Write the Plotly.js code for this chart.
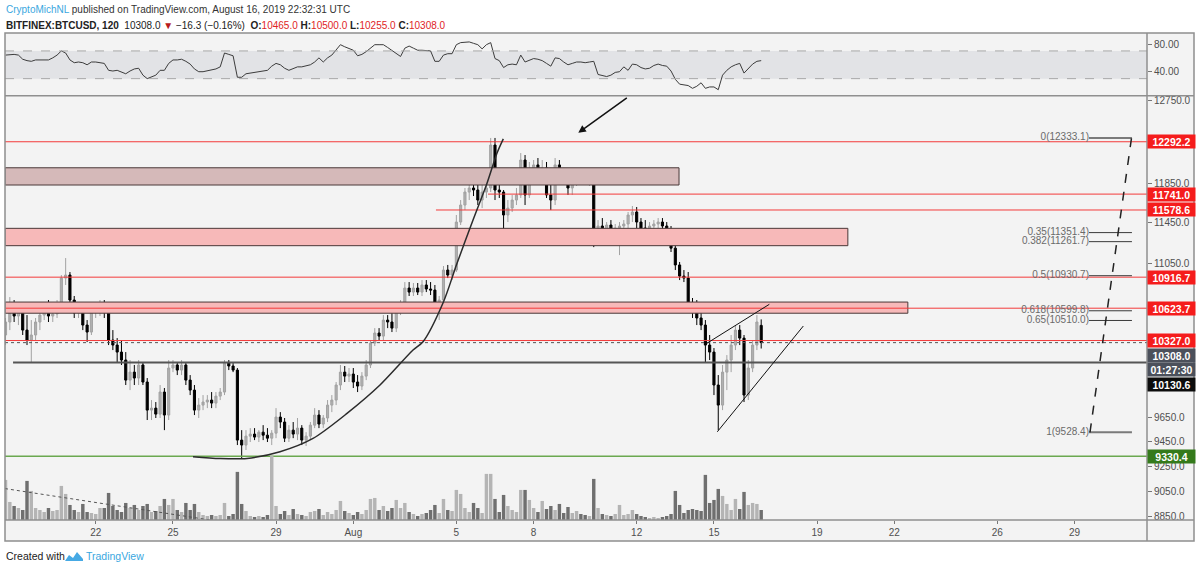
<!DOCTYPE html>
<html>
<head>
<meta charset="utf-8">
<script src="https://cdn.plot.ly/plotly-3.0.1.min.js"></script>
<style>
  body { margin: 0; background: #fff; }
  #chart { width: 1200px; height: 571px; }
</style>
</head>
<body>
<div id="chart"></div>
<script>
const candleStart = Date.UTC(2019, 6, 18, 12);

const open = [
  10377, 10496, 10588, 10551, 10607, 10422, 10331, 10377, 10496, 10560,
  10588, 10551, 10570, 10653, 10908, 10937, 10700, 10579, 10626, 10468,
  10404, 10588, 10626, 10653, 10588, 10331, 10286, 10223, 10152, 9975,
  10045, 9993, 10108, 9958, 9716, 9733, 9682, 9871, 9674, 10081,
  10108, 10063, 10108, 9975, 9888, 9716, 9759, 9785, 9802, 9776,
  9836, 9871, 10125, 10099, 10063, 9464, 9423, 9497, 9514, 9489,
  9530, 9505, 9480, 9522, 9657, 9615, 9480, 9547, 9514, 9564,
  9464, 9497, 9589, 9674, 9598, 9649, 9759, 9802, 9932, 10045,
  10010, 10028, 9958, 9923, 10010, 10108, 10304, 10395, 10367, 10514,
  10496, 10440, 10607, 10653, 10813, 10775, 10813, 10775, 10842, 10804,
  10794, 10626, 10700, 10985, 10937, 10985, 11457, 11629, 11762, 11804,
  11783, 11680, 11762, 11804, 12257, 11783, 11762, 11528, 11598, 11680,
  11732, 12097, 11732, 11991, 12045, 11970, 12013, 11732, 11680, 12045,
  11939, 11908, 11804, 11866, 11950, 11908, 11887, 11908, 11397, 11417,
  11357, 11427, 11338, 11397, 11417, 11437, 11528, 11558, 11457, 11397,
  11357, 11417, 11437, 11457, 11417, 11377, 11198, 11034, 10927, 10908,
  10653, 10607, 10533, 10468, 10286, 10223, 9932, 9759, 10045, 10152,
  10286, 10422, 10349, 9845, 10081, 10286, 10465
];
const high = [
  10533, 10728, 10700, 10653, 10653, 10560, 10514, 10533, 10653, 10672,
  10700, 10653, 10700, 10937, 11101, 10966, 10738, 10681, 10653, 10514,
  10653, 10672, 10700, 10700, 10626, 10422, 10349, 10331, 10223, 10152,
  10108, 10152, 10134, 9993, 9802, 9785, 9932, 9906, 10152, 10152,
  10134, 10152, 10134, 10019, 9932, 9819, 9845, 9845, 9871, 9871,
  9906, 10152, 10152, 10125, 10081, 9547, 9547, 9564, 9564, 9547,
  9589, 9564, 9547, 9733, 9699, 9649, 9589, 9615, 9649, 9589,
  9530, 9615, 9733, 9716, 9674, 9802, 9845, 9958, 10108, 10099,
  10081, 10081, 10019, 10045, 10152, 10331, 10440, 10440, 10560, 10560,
  10653, 10653, 10700, 10870, 10870, 10861, 10861, 10889, 10889, 10870,
  10842, 10738, 11024, 11034, 11034, 11528, 11680, 11804, 11856, 11887,
  11866, 11835, 11835, 12333, 12333, 11856, 11783, 11680, 11732, 11804,
  12171, 12150, 12076, 12097, 12118, 12097, 12076, 11835, 12118, 12097,
  12013, 11991, 11908, 11991, 12013, 11991, 11970, 11950, 11477, 11497,
  11457, 11477, 11437, 11457, 11477, 11558, 11619, 11609, 11497, 11477,
  11457, 11477, 11497, 11497, 11457, 11417, 11278, 11063, 10985, 10966,
  10719, 10700, 10653, 10514, 10377, 10259, 10019, 10108, 10196, 10377,
  10468, 10468, 10377, 10152, 10331, 10560, 10520
];
const low = [
  10286, 10422, 10496, 10468, 10377, 10286, 10134, 10331, 10422, 10514,
  10496, 10496, 10533, 10607, 10842, 10653, 10533, 10533, 10422, 10313,
  10377, 10533, 10551, 10533, 10286, 10241, 10134, 10108, 9932, 9888,
  9932, 9932, 9932, 9632, 9632, 9649, 9649, 9547, 9632, 10045,
  10019, 10019, 9932, 9845, 9674, 9649, 9716, 9733, 9733, 9733,
  9802, 9845, 10063, 10045, 9423, 9316, 9382, 9448, 9464, 9448,
  9464, 9448, 9423, 9480, 9564, 9448, 9448, 9480, 9464, 9423,
  9415, 9464, 9564, 9564, 9564, 9615, 9699, 9759, 9888, 9958,
  9958, 9906, 9871, 9888, 9975, 10081, 10277, 10331, 10331, 10440,
  10404, 10404, 10560, 10626, 10738, 10738, 10747, 10738, 10775, 10747,
  10588, 10514, 10663, 10908, 10889, 10966, 11427, 11578, 11680, 11721,
  11629, 11598, 11701, 11762, 11680, 11701, 11278, 11457, 11558, 11629,
  11701, 11629, 11701, 11908, 11939, 11887, 11701, 11578, 11629, 11887,
  11866, 11732, 11732, 11825, 11887, 11846, 11825, 11208, 11298, 11298,
  11318, 11298, 11318, 11130, 11357, 11397, 11457, 11397, 11357, 11318,
  11328, 11377, 11397, 11377, 11328, 11160, 10985, 10889, 10870, 10626,
  10533, 10468, 10422, 10134, 10152, 9845, 9547, 9716, 9888, 10045,
  10241, 10286, 9785, 9802, 10045, 10241, 10255
];
const close = [
  10496, 10588, 10551, 10607, 10422, 10331, 10377, 10496, 10560, 10588,
  10551, 10570, 10653, 10908, 10937, 10700, 10579, 10626, 10468, 10404,
  10588, 10626, 10653, 10588, 10331, 10286, 10223, 10152, 9975, 10045,
  9993, 10108, 9958, 9716, 9733, 9682, 9871, 9674, 10081, 10108,
  10063, 10108, 9975, 9888, 9716, 9759, 9785, 9802, 9776, 9836,
  9871, 10125, 10099, 10063, 9464, 9423, 9497, 9514, 9489, 9530,
  9505, 9480, 9522, 9657, 9615, 9480, 9547, 9514, 9564, 9464,
  9497, 9589, 9674, 9598, 9649, 9759, 9802, 9932, 10045, 10010,
  10028, 9958, 9923, 10010, 10108, 10304, 10395, 10367, 10514, 10496,
  10440, 10607, 10653, 10813, 10775, 10813, 10775, 10842, 10804, 10794,
  10626, 10700, 10985, 10937, 10985, 11457, 11629, 11762, 11804, 11783,
  11680, 11762, 11804, 12257, 11783, 11762, 11528, 11598, 11680, 11732,
  12097, 11732, 11991, 12045, 11970, 12013, 11732, 11680, 12045, 11939,
  11908, 11804, 11866, 11950, 11908, 11887, 11908, 11397, 11417, 11357,
  11427, 11338, 11397, 11417, 11437, 11528, 11558, 11457, 11397, 11357,
  11417, 11437, 11457, 11417, 11377, 11198, 11034, 10927, 10908, 10653,
  10607, 10533, 10468, 10286, 10223, 9932, 9759, 10045, 10152, 10286,
  10422, 10349, 9845, 10081, 10286, 10496, 10308
];
const volume = [
  1200, 540, 420, 360, 300, 1170, 870, 360, 300, 240,
  360, 270, 300, 1020, 780, 450, 300, 240, 480, 240,
  210, 180, 360, 360, 810, 420, 300, 240, 510, 360,
  450, 300, 420, 480, 240, 270, 420, 630, 450, 630,
  300, 240, 510, 300, 480, 240, 150, 120, 150, 120,
  150, 510, 120, 180, 1440, 480, 270, 120, 90, 120,
  90, 150, 1920, 420, 180, 270, 150, 330, 180, 150,
  120, 240, 270, 330, 150, 240, 180, 300, 570, 270,
  210, 150, 240, 180, 300, 630, 660, 300, 420, 270,
  360, 600, 360, 510, 240, 180, 120, 180, 210, 300,
  450, 210, 630, 300, 270, 900, 780, 360, 240, 510,
  360, 210, 1380, 1380, 630, 240, 750, 420, 300, 240,
  900, 900, 600, 360, 240, 570, 330, 420, 300, 480,
  210, 390, 210, 270, 180, 150, 120, 1230, 360, 180,
  150, 120, 180, 450, 150, 180, 300, 180, 120, 90,
  60, 90, 60, 90, 120, 180, 870, 450, 210, 300,
  330, 300, 270, 1350, 510, 600, 930, 720, 480, 300,
  630, 330, 840, 450, 510, 480, 300
];
const rsi = [
  64, 65, 65, 64, 58, 56, 55, 57, 57, 58,
  57, 60, 64, 70, 67, 57, 53, 54, 53, 50,
  54, 54, 53, 52, 42, 41, 42, 40, 37, 41,
  44, 45, 35, 30, 32, 35, 42, 42, 52, 57,
  57, 58, 55, 51, 44, 40, 40, 41, 42, 44,
  47, 67, 65, 63, 32, 32, 37, 38, 39, 40,
  40, 42, 48, 52, 50, 45, 42, 45, 47, 47,
  48, 50, 54, 60, 54, 60, 64, 71, 79, 76,
  73, 71, 63, 65, 69, 74, 79, 79, 79, 75,
  71, 66, 62, 74, 77, 74, 71, 71, 71, 70,
  55, 55, 64, 66, 66, 79, 82, 83, 83, 81,
  79, 73, 79, 82, 59, 56, 46, 50, 51, 50,
  64, 54, 57, 59, 58, 56, 52, 48, 60, 59,
  54, 50, 52, 54, 54, 53, 54, 55, 36, 34,
  33, 35, 39, 40, 47, 42, 51, 50, 46, 44,
  45, 49, 51, 49, 48, 41, 29, 22, 21, 20,
  16, 19, 24, 16, 18, 18, 14, 35, 42, 47,
  50, 52, 38, 45, 51, 55, 56
];

// horizontal levels drawn on the chart
const redLevels = [12292.2, 11741.0, 11578.6, 10916.7, 10623.7, 10327.0];
const redLevelStarts = ['2019-07-18 11:30', '2019-08-06 05:30', '2019-08-04 05:00',
                        '2019-07-18 11:30', '2019-07-18 11:30', '2019-07-18 11:30'];
const lastPrice = 10308.0;
const blackLevel = 10130.6;
const greenLevel = 9330.4;

// supply / demand zones
const zoneTops = [12015, 11394, 10681];
const zoneBottoms = [11835, 11222, 10577];
const zoneEnds = ['2019-08-13 15:27', '2019-08-20 04:44', '2019-08-22 12:38'];

// fib retracement
const fibRatios = ['0', '0.35', '0.382', '0.5', '0.618', '0.65', '1'];
const fibPrices = [12333.1, 11351.4, 11261.7, 10930.7, 10599.8, 10510.0, 9528.4];

// parabolic curve drawing
const arcTimes = ['2019-07-25 18:39', '2019-07-26 19:48', '2019-07-27 20:57', '2019-07-29 03:42',
  '2019-07-30 10:28', '2019-07-31 18:07', '2019-08-02 00:52', '2019-08-03 07:38', '2019-08-03 16:57',
  '2019-08-04 11:34', '2019-08-05 00:37', '2019-08-05 15:32', '2019-08-06 04:34', '2019-08-06 13:54',
  '2019-08-06 19:45'];
const arcPrices = [9327, 9312, 9313, 9368, 9478, 9688, 9932, 10241, 10316, 10672, 11050, 11477, 11853, 12171, 12323];

const xLeft = '2019-07-18 11:30';
const xRight = '2019-08-31 19:26';

const W = 1200, H = 571;
const px = x => x / W;
const py = y => 1 - y / H;

const times = close.map((c, i) => candleStart + i * 4 * 3600 * 1000);
const volColors = close.map((c, i) => c >= open[i] ? '#b4b4b4' : '#6f6f6f');

const FONT = 'Liberation Sans, Arial, sans-serif';
const RED = '#f51c1c';

function seg(x, y, color, width, dash, yaxis) {
  return {type: 'scatter', mode: 'lines', x: x, y: y, yaxis: yaxis || 'y',
          line: {color: color, width: width, dash: dash || 'solid'}, hoverinfo: 'skip'};
}

const traces = [];

// zones
zoneTops.forEach((top, i) => {
  traces.push({
    type: 'scatter', mode: 'lines', fill: 'toself',
    x: [xLeft, zoneEnds[i], zoneEnds[i], xLeft, xLeft],
    y: [zoneBottoms[i], zoneBottoms[i], top, top, zoneBottoms[i]],
    fillcolor: i === 0 ? '#d5b9b9' : '#f7b9b9',
    line: {color: '#4a3838', width: 1}, hoverinfo: 'skip'
  });
});

// volume
traces.push({
  type: 'bar', x: times, y: volume, yaxis: 'y3',
  width: 3.2 * 3600 * 1000, marker: {color: volColors, line: {width: 0}}, hoverinfo: 'skip'
});
traces.push(seg([xLeft, '2019-07-26 10:30'], [940, 0], '#555', 1, 'dot', 'y3'));

// candles
traces.push({
  type: 'candlestick', x: times, open: open, high: high, low: low, close: close,
  increasing: {line: {color: '#a2a2a2', width: 1}, fillcolor: '#b0b0b0'},
  decreasing: {line: {color: '#000000', width: 1}, fillcolor: '#000000'},
  whiskerwidth: 0, hoverinfo: 'skip'
});

// levels
redLevels.forEach((p, i) => traces.push(seg([redLevelStarts[i], xRight], [p, p], '#f33a3a', 1)));
traces.push(seg([xLeft, xRight], [lastPrice, lastPrice], '#555', 1, 'dot'));
traces.push(seg(['2019-07-18 19:00', xRight], [blackLevel, blackLevel], '#555', 2));
traces.push(seg([xLeft, xRight], [greenLevel, greenLevel], '#6aa84f', 1.5));

// parabolic curve
traces.push({type: 'scatter', mode: 'lines', x: arcTimes, y: arcPrices,
  line: {color: '#2b2b2b', width: 1.5, shape: 'spline', smoothing: 0.8}, hoverinfo: 'skip'});

// rising wedge
traces.push(seg(['2019-08-14 17:15', '2019-08-17 03:35'], [10301, 10660], '#111', 1));
traces.push(seg(['2019-08-15 03:07', '2019-08-18 11:15'], [9533, 10459], '#111', 1));

// fib
fibPrices.forEach((p, i) => {
  const edge = (i === 0 || i === fibPrices.length - 1);
  traces.push(seg(['2019-08-29 13:22', '2019-08-31 05:25'], [p, p], edge ? '#7a7a7a' : '#3a3a3a', edge ? 2 : 1));
});
traces.push(seg(['2019-08-29 14:18', '2019-08-31 05:00'], [fibPrices[6], fibPrices[0]], '#222', 1.5, 'dash'));
traces.push({type: 'scatter', mode: 'text', x: fibPrices.map(() => '2019-08-29 13:22'), y: fibPrices,
  text: fibRatios.map((r, i) => r + '(' + fibPrices[i].toFixed(1) + ')'),
  textposition: 'middle left', textfont: {family: FONT, size: 10, color: '#6a6a6a'}, hoverinfo: 'skip'});

// RSI
traces.push({type: 'scatter', mode: 'lines', x: times, y: rsi, yaxis: 'y2',
  line: {color: '#3c3c3c', width: 1}, hoverinfo: 'skip'});

function tag(price, text, bg, shift) {
  return {xref: 'paper', x: px(1147), xanchor: 'left', yref: 'y', y: Math.log10(price),
    yanchor: 'middle', yshift: shift || 0, text: '<b>' + text + '</b>', showarrow: false,
    bgcolor: bg, width: 45, height: 11, borderpad: 1, align: 'center',
    font: {color: '#ffffff', size: 10.5, family: FONT}};
}

const annotations = [
  {xref: 'paper', yref: 'paper', x: px(4), y: py(9), xanchor: 'left', yanchor: 'middle', showarrow: false,
   text: '<span style="color:#3aa7e0">CryptoMichNL</span> published on TradingView.com, August 16, 2019 22:32:31 UTC',
   font: {family: FONT, size: 10, color: '#333'}},
  {xref: 'paper', yref: 'paper', x: px(4), y: py(25), xanchor: 'left', yanchor: 'middle', showarrow: false,
   text: '<b>BITFINEX:BTCUSD, 120</b>  10308.0 <span style="color:#b71c1c">▼</span> −16.3 (−0.16%)  ' +
         '<b>O:</b><span style="color:#e0241f">10465.0</span> <b>H:</b><span style="color:#e0241f">10500.0</span> ' +
         '<b>L:</b><span style="color:#e0241f">10255.0</span> <b>C:</b><span style="color:#e0241f">10308.0</span>',
   font: {family: FONT, size: 10, color: '#222'}},
  {xref: 'paper', yref: 'paper', x: px(4), y: py(556), xanchor: 'left', yanchor: 'middle', showarrow: false,
   text: 'Created with', font: {family: FONT, size: 10.5, color: '#222'}},
  {xref: 'paper', yref: 'paper', x: px(84), y: py(556), xanchor: 'left', yanchor: 'middle', showarrow: false,
   text: 'TradingView', font: {family: FONT, size: 10.5, color: '#3aa7e0'}},
  {xref: 'x', yref: 'y', x: '2019-08-09 17:38', y: Math.log10(12389), text: '', showarrow: true,
   ax: 50, ay: -36, arrowhead: 2, arrowsize: 1, arrowwidth: 1.5, arrowcolor: '#111'}
];
redLevels.forEach(p => annotations.push(tag(p, p.toFixed(1), RED)));
annotations.push(tag(lastPrice, lastPrice.toFixed(1), '#4b505b', -12.4));
annotations.push(tag(lastPrice, '01:27:30', '#4b505b', -26.4));
annotations.push(tag(blackLevel, blackLevel.toFixed(1), '#0c0c0c', -21.6));
annotations.push(tag(greenLevel, greenLevel.toFixed(1), '#347a1b'));

const FRAME = '#8f8f8f';
const shapes = [
  {type: 'rect', xref: 'paper', yref: 'paper', x0: px(5), x1: px(1194), y0: py(33), y1: py(541),
   fillcolor: '#f3f3f3', line: {width: 0}, layer: 'below'},
  {type: 'rect', xref: 'paper', yref: 'y2', x0: px(5), x1: px(1147), y0: 30, y1: 70,
   fillcolor: '#e2e3e6', line: {width: 0}, layer: 'below'},
  {type: 'line', xref: 'paper', yref: 'y2', x0: px(5), x1: px(1147), y0: 70, y1: 70,
   line: {color: '#a8a8a8', width: 1, dash: 'dash'}},
  {type: 'line', xref: 'paper', yref: 'y2', x0: px(5), x1: px(1147), y0: 30, y1: 30,
   line: {color: '#a8a8a8', width: 1, dash: 'dash'}},
  {type: 'rect', xref: 'paper', yref: 'paper', x0: px(5), x1: px(1194), y0: py(33), y1: py(541),
   line: {color: FRAME, width: 1.5}},
  {type: 'line', xref: 'paper', yref: 'paper', x0: px(1147), x1: px(1147), y0: py(33), y1: py(541),
   line: {color: FRAME, width: 1.5}},
  {type: 'line', xref: 'paper', yref: 'paper', x0: px(5), x1: px(1194), y0: py(95.7), y1: py(95.7),
   line: {color: FRAME, width: 1.5}},
  {type: 'line', xref: 'paper', yref: 'paper', x0: px(5), x1: px(1194), y0: py(520), y1: py(520),
   line: {color: FRAME, width: 1.5}},
  {type: 'path', xref: 'paper', yref: 'paper', fillcolor: '#46a9e4', line: {width: 0},
   path: 'M' + px(65) + ',' + py(561) + ' L' + px(69) + ',' + py(555) + ' L' + px(73) + ',' + py(558) +
         ' L' + px(77) + ',' + py(552) + ' L' + px(83) + ',' + py(559) + ' L' + px(83) + ',' + py(561) + ' Z'}
];

// ticks that the price tags would fully cover are left out
const priceTicks = [12750, 11850, 11450, 11050, 9650, 9450, 9250, 9050, 8850];
const dateTicks = ['2019-07-22', '2019-07-25', '2019-07-29', '2019-08-01', '2019-08-05', '2019-08-08',
                   '2019-08-12', '2019-08-15', '2019-08-19', '2019-08-22', '2019-08-26', '2019-08-29'];
const dateLabels = ['22', '25', '29', 'Aug', '5', '8', '12', '15', '19', '22', '26', '29'];

const layout = {
  width: W, height: H,
  margin: {l: 0, r: 0, t: 0, b: 0, pad: 0},
  paper_bgcolor: '#ffffff', plot_bgcolor: 'rgba(0,0,0,0)',
  showlegend: false, hovermode: false,
  font: {family: FONT, size: 10, color: '#4f4f4f'},
  xaxis: {
    type: 'date', domain: [px(5), px(1147)], range: [xLeft, xRight], anchor: 'y',
    rangeslider: {visible: false}, showgrid: false, zeroline: false, showline: false,
    tickmode: 'array', tickvals: dateTicks, ticktext: dateLabels,
    ticks: 'outside', ticklen: 3, tickcolor: '#777', tickfont: {size: 10, color: '#4f4f4f'}
  },
  yaxis: {
    type: 'log', domain: [(H - 520) / H, (H - 96) / H], anchor: 'x', side: 'right',
    range: [Math.log10(8824), Math.log10(12795)],
    showgrid: false, zeroline: false, showline: false,
    tickmode: 'array', tickvals: priceTicks, ticktext: priceTicks.map(v => v.toFixed(1)),
    ticks: 'outside', ticklen: 4, tickcolor: '#777', tickfont: {size: 10, color: '#4f4f4f'}
  },
  yaxis2: {
    domain: [(H - 95.7) / H, (H - 33) / H], anchor: 'x', side: 'right', range: [5.35, 95.9],
    showgrid: false, zeroline: false, showline: false,
    tickmode: 'array', tickvals: [80, 40], ticktext: ['80.00', '40.00'],
    ticks: 'outside', ticklen: 4, tickcolor: '#777', tickfont: {size: 10, color: '#4f4f4f'}
  },
  yaxis3: {overlaying: 'y', anchor: 'x', range: [0, 12690], visible: false, showgrid: false, zeroline: false},
  annotations: annotations,
  shapes: shapes
};

Plotly.newPlot('chart', traces, layout, {staticPlot: true, displayModeBar: false});
</script>
</body>
</html>
